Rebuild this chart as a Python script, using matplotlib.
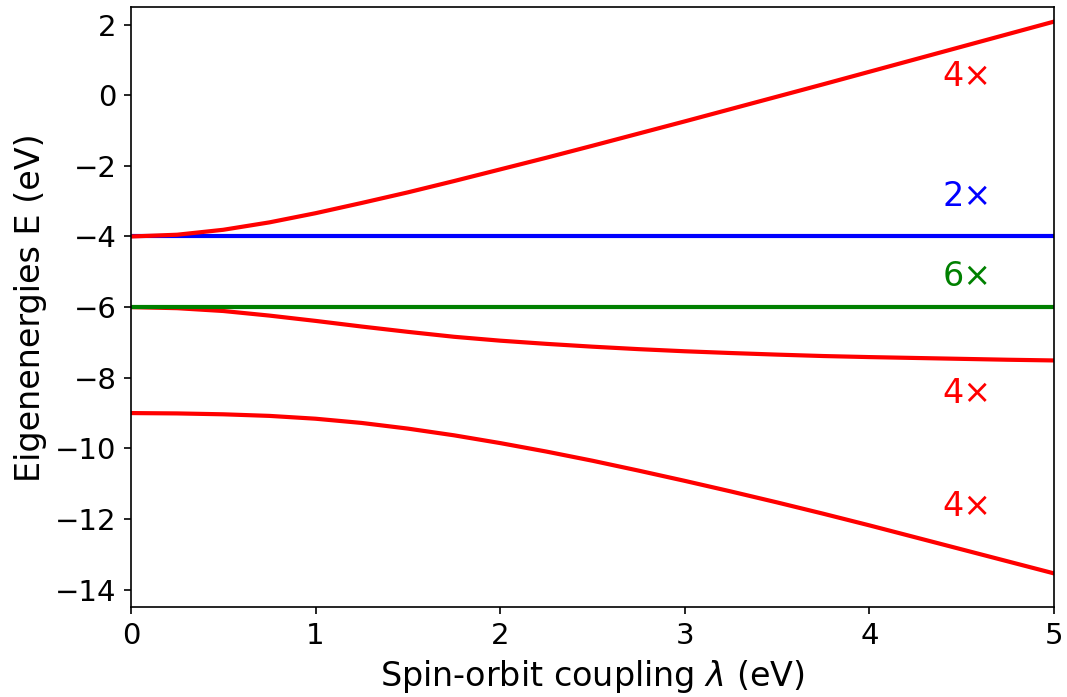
import matplotlib
matplotlib.use("Agg")
import matplotlib.pyplot as plt

# Spin-orbit coupling strength (eV)
lam = [0.0, 0.25, 0.5, 0.75, 1.0, 1.25, 1.5, 1.75, 2.0, 2.25, 2.5,
       2.75, 3.0, 3.25, 3.5, 3.75, 4.0, 4.25, 4.5, 4.75, 5.0]

# Eigenenergies (eV) of the three lambda-dependent (4-fold) levels
e_upper = [-4.00, -3.95, -3.81, -3.60, -3.34, -3.05, -2.75, -2.43, -2.10, -1.77, -1.43,
           -1.085, -0.74, -0.39, -0.04, 0.31, 0.665, 1.02, 1.375, 1.73, 2.085]
e_middle = [-6.00, -6.03, -6.11, -6.24, -6.39, -6.55, -6.70, -6.84, -6.95, -7.04, -7.12,
            -7.19, -7.25, -7.30, -7.345, -7.385, -7.415, -7.44, -7.465, -7.49, -7.51]
e_lower = [-9.00, -9.01, -9.035, -9.08, -9.16, -9.28, -9.44, -9.63, -9.85, -10.09, -10.35,
           -10.63, -10.92, -11.22, -11.53, -11.85, -12.18, -12.52, -12.86, -13.20, -13.54]

# Flat levels, independent of lambda
e_flat_2 = -4.0
e_flat_6 = -6.0

# Degeneracy labels: (text, x, y, colour)
labels = [("4×", 4.53, 0.54, "red"),
          ("2×", 4.53, -2.86, "blue"),
          ("6×", 4.53, -5.13, "green"),
          ("4×", 4.53, -8.44, "red"),
          ("4×", 4.53, -11.65, "red")]

fig = plt.figure(figsize=(1067 / 150, 697 / 150), dpi=150)
ax = fig.add_axes([131 / 1067, 1 - 607.3 / 697, (1054 - 131) / 1067, (607.3 - 7.3) / 697])

lw = 2.0
ax.plot([lam[0], lam[-1]], [e_flat_2, e_flat_2], color="blue", lw=lw)
ax.plot(lam, e_upper, color="red", lw=lw)
ax.plot(lam, e_middle, color="red", lw=lw)
ax.plot(lam, e_lower, color="red", lw=lw)
ax.plot([lam[0], lam[-1]], [e_flat_6, e_flat_6], color="green", lw=lw)

for text, x, y, c in labels:
    ax.text(x, y, text, color=c, fontsize=16, ha="center", va="center")

ax.set_xlim(0, 5)
ax.set_ylim(-14.5, 2.49)
ax.set_xticks([0, 1, 2, 3, 4, 5])
ax.set_yticks([2, 0, -2, -4, -6, -8, -10, -12, -14])
ax.tick_params(labelsize=14)
ax.set_xlabel(r"Spin-orbit coupling $\lambda$ (eV)", fontsize=16)
ax.set_ylabel("Eigenenergies E (eV)", fontsize=16)

fig.savefig("out.png", dpi=150)
